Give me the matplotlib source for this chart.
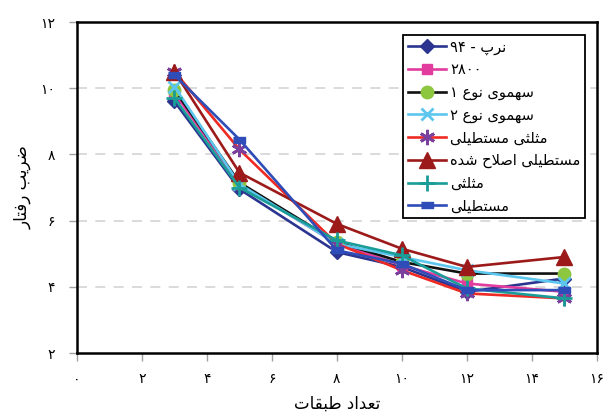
import numpy as np
import matplotlib
matplotlib.use('Agg')
import matplotlib.pyplot as plt

plt.rcParams['font.family'] = ['DejaVu Sans']

# data
floors = [3, 5, 8, 10, 12, 15]
norp94 = [9.6, 6.95, 5.05, 4.6, 3.85, 4.25]
s2800 = [9.85, 7.1, 5.3, 4.65, 4.1, 3.85]
parab1 = [9.95, 7.15, 5.35, 4.75, 4.4, 4.4]
parab2 = [10.05, 7.1, 5.3, 4.9, 4.5, 4.1]
tri_rect = [10.5, 8.15, 5.3, 4.5, 3.8, 3.65]
rect_mod = [10.5, 7.45, 5.9, 5.15, 4.6, 4.9]
triangle = [9.7, 7.0, 5.4, 4.95, 3.95, 3.65]
rect = [10.4, 8.45, 5.1, 4.7, 3.9, 3.9]

labels = ['نرپ - ۹۴', '۲۸۰۰', 'سهموی نوع ۱', 'سهموی نوع ۲',
          'مثلثی مستطیلی', 'مستطیلی اصلاح شده', 'مثلثی', 'مستطیلی']
xticks = [0, 2, 4, 6, 8, 10, 12, 14, 16]
yticks = [2, 4, 6, 8, 10, 12]
xlabel = 'تعداد طبقات'
ylabel = 'ضریب رفتار'

# minimal persian shaping (isolated, final, initial, medial)
FORMS = {
    'ا': (0xFE8D, 0xFE8E, None, None),
    'ب': (0xFE8F, 0xFE90, 0xFE91, 0xFE92),
    'پ': (0xFB56, 0xFB57, 0xFB58, 0xFB59),
    'ت': (0xFE95, 0xFE96, 0xFE97, 0xFE98),
    'ث': (0xFE99, 0xFE9A, 0xFE9B, 0xFE9C),
    'ح': (0xFEA1, 0xFEA2, 0xFEA3, 0xFEA4),
    'د': (0xFEA9, 0xFEAA, None, None),
    'ر': (0xFEAD, 0xFEAE, None, None),
    'س': (0xFEB1, 0xFEB2, 0xFEB3, 0xFEB4),
    'ش': (0xFEB5, 0xFEB6, 0xFEB7, 0xFEB8),
    'ص': (0xFEB9, 0xFEBA, 0xFEBB, 0xFEBC),
    'ض': (0xFEBD, 0xFEBE, 0xFEBF, 0xFEC0),
    'ط': (0xFEC1, 0xFEC2, 0xFEC3, 0xFEC4),
    'ع': (0xFEC9, 0xFECA, 0xFECB, 0xFECC),
    'ف': (0xFED1, 0xFED2, 0xFED3, 0xFED4),
    'ق': (0xFED5, 0xFED6, 0xFED7, 0xFED8),
    'ل': (0xFEDD, 0xFEDE, 0xFEDF, 0xFEE0),
    'م': (0xFEE1, 0xFEE2, 0xFEE3, 0xFEE4),
    'ن': (0xFEE5, 0xFEE6, 0xFEE7, 0xFEE8),
    'ه': (0xFEE9, 0xFEEA, 0xFEEB, 0xFEEC),
    'و': (0xFEED, 0xFEEE, None, None),
    'ی': (0xFBFC, 0xFBFD, 0xFBFE, 0xFBFF),
}


def shape_word(w):
    out = []
    i = 0
    while i < len(w):
        c = w[i]
        if c not in FORMS:
            out.append(c)
            i += 1
            continue
        prev_joins = i > 0 and w[i - 1] in FORMS and FORMS[w[i - 1]][2] is not None
        if c == 'ل' and i + 1 < len(w) and w[i + 1] == 'ا':
            out.append(chr(0xFEFC if prev_joins else 0xFEFB))
            i += 2
            continue
        next_joins = (FORMS[c][2] is not None and i + 1 < len(w)
                      and w[i + 1] in FORMS)
        iso, fin, ini, med = FORMS[c]
        if prev_joins and next_joins:
            code = med
        elif prev_joins:
            code = fin
        elif next_joins:
            code = ini
        else:
            code = iso
        out.append(chr(code))
        i += 1
    if any(ch in FORMS for ch in w):
        out = out[::-1]
    return ''.join(out)


def fa(s):
    # right-to-left: shape each word, then lay the words out right to left
    return ' '.join(shape_word(w) for w in s.split(' ')[::-1])


def fa_digits(n):
    return ''.join(chr(0x06F0 + int(d)) for d in str(n))


fig = plt.figure(figsize=(6.04, 4.12), dpi=100, facecolor='white')
ax = fig.add_axes([0.1275, 0.1432, 0.8605, 0.8034])

series = [norp94, s2800, parab1, parab2, tri_rect, rect_mod, triangle, rect]
styles = [
    dict(color='#2B3590', marker='D', ms=7, mfc='#2B3590', mec='#2B3590'),
    dict(color='#E23C9E', marker='s', ms=7, mfc='#E23C9E', mec='#E23C9E'),
    dict(color='#111111', marker='o', ms=9, mfc='#8DC63F', mec='#8DC63F'),
    dict(color='#5CC6EE', marker='x', ms=9, mew=2, mec='#5CC6EE'),
    dict(color='#EE2A24', marker=(6, 2, 0), ms=11, mew=2, mec='#7B3F9E'),
    dict(color='#9C1A1A', marker='^', ms=11, mfc='#9C1A1A', mec='#9C1A1A'),
    dict(color='#1A9C98', marker='+', ms=11, mew=2, mec='#1A9C98'),
    dict(color='#2F4DB8', marker=[(-1, -0.45), (1, -0.45), (1, 0.45), (-1, 0.45)],
         ms=9, mfc='#2F4DB8', mec='#2F4DB8'),
]

for vals, lab, st in zip(series, labels, styles):
    ax.plot(floors, vals, lw=1.9, label=fa(lab), **st)

ax.set_xlim(0, 16)
ax.set_ylim(2, 12)
ax.set_xticks(xticks)
ax.set_xticklabels([fa_digits(t) for t in xticks], fontsize=10)
ax.set_yticks(yticks)
ax.set_yticklabels([fa_digits(t) for t in yticks], fontsize=10)
ax.tick_params(axis='both', direction='out', length=6, color='#a0a0a0', width=1)
ax.tick_params(axis='x', pad=8)
ax.tick_params(axis='y', pad=10)

for sp in ax.spines.values():
    sp.set_linewidth(1.8)
    sp.set_color('black')

for yv in [4, 6, 8, 10]:
    ax.axhline(yv, color='#d4d4d4', lw=1.2, ls=(0, (6, 5)), zorder=0)

ax.set_xlabel(fa(xlabel), fontsize=12, labelpad=6)
ax.set_ylabel(fa(ylabel), fontsize=12, labelpad=6)

leg = ax.legend(loc='upper right', bbox_to_anchor=(0.977, 0.961), borderaxespad=0,
                fontsize=10.5, handlelength=2.6, labelspacing=0.52, handletextpad=0.3,
                fancybox=False, framealpha=1, edgecolor='black', borderpad=0.3)
leg.get_frame().set_linewidth(1.3)

fig.savefig('out.png', dpi=100, facecolor='white')
